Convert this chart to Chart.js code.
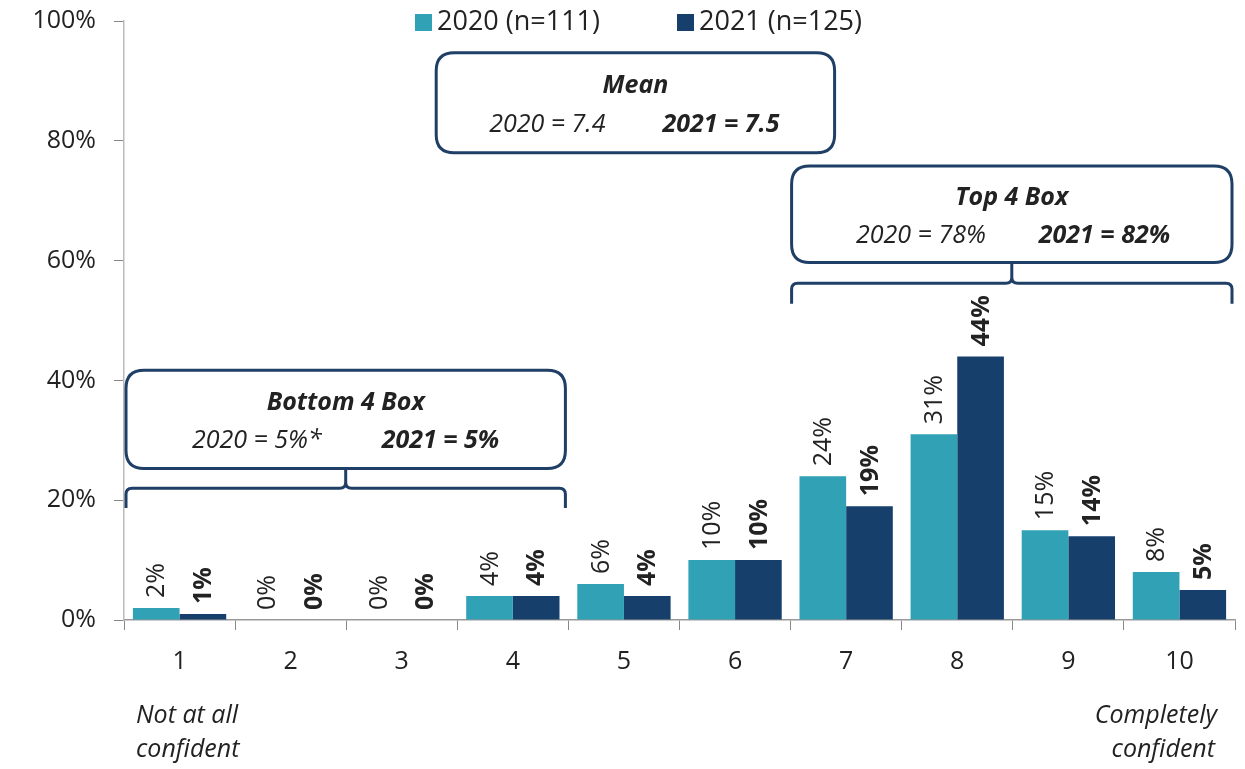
<!DOCTYPE html>
<html>
<head>
<meta charset="utf-8">
<script src="https://cdn.jsdelivr.net/npm/chart.js@4"></script>
<style>
  html, body { margin: 0; padding: 0; background: #fff; }
  #wrap { width: 1245px; height: 769px; }
</style>
</head>
<body>
<div id="wrap"><canvas id="chart"></canvas></div>
<script>
// data
const categories = ["1", "2", "3", "4", "5", "6", "7", "8", "9", "10"];
const values2020 = [2, 0, 0, 4, 6, 10, 24, 31, 15, 8];
const values2021 = [1, 0, 0, 4, 4, 10, 19, 44, 14, 5];
const seriesNames = ["2020 (n=111)", "2021 (n=125)"];
const yTicks = [0, 20, 40, 60, 80, 100];

const meanBox = { title: "Mean", a: "2020 = 7.4", b: "2021 = 7.5" };
const topBox = { title: "Top 4 Box", a: "2020 = 78%", b: "2021 = 82%" };
const bottomBox = { title: "Bottom 4 Box", a: "2020 = 5%*", b: "2021 = 5%" };

const TEAL = "#31a1b6";
const NAVY = "#173f6b";
const BOXLINE = "#1f3f66";
const FONT = "'Open Sans', 'Noto Sans', sans-serif";
const FS = 25;

function roundRect(ctx, x, y, w, h, r) {
  ctx.beginPath();
  ctx.moveTo(x + r, y);
  ctx.lineTo(x + w - r, y);
  ctx.quadraticCurveTo(x + w, y, x + w, y + r);
  ctx.lineTo(x + w, y + h - r);
  ctx.quadraticCurveTo(x + w, y + h, x + w - r, y + h);
  ctx.lineTo(x + r, y + h);
  ctx.quadraticCurveTo(x, y + h, x, y + h - r);
  ctx.lineTo(x, y + r);
  ctx.quadraticCurveTo(x, y, x + r, y);
  ctx.closePath();
}

function drawBox(ctx, x1, y1, x2, y2, info, gapA, gapB) {
  ctx.save();
  roundRect(ctx, x1, y1, x2 - x1, y2 - y1, 18);
  ctx.fillStyle = "#fff";
  ctx.fill();
  ctx.lineWidth = 3;
  ctx.strokeStyle = BOXLINE;
  ctx.stroke();
  const cx = (x1 + x2) / 2;
  const h = y2 - y1;
  ctx.fillStyle = "#222";
  ctx.textBaseline = "middle";
  ctx.textAlign = "center";
  ctx.font = "italic bold " + FS + "px " + FONT;
  ctx.fillText(info.title, cx, y1 + h * 0.33);
  ctx.font = "italic " + FS + "px " + FONT;
  ctx.textAlign = "right";
  ctx.fillText(info.a, cx - gapA, y1 + h * 0.72);
  ctx.font = "italic bold " + FS + "px " + FONT;
  ctx.textAlign = "left";
  ctx.fillText(info.b, cx + gapB, y1 + h * 0.72);
  ctx.restore();
}

function drawBracket(ctx, x1, x2, yTop, yEnd, yStem) {
  const cx = (x1 + x2) / 2;
  ctx.save();
  ctx.lineWidth = 3;
  ctx.strokeStyle = BOXLINE;
  ctx.beginPath();
  ctx.moveTo(x1, yEnd);
  ctx.lineTo(x1, yTop + 6);
  ctx.quadraticCurveTo(x1, yTop, x1 + 6, yTop);
  ctx.lineTo(cx - 6, yTop);
  ctx.quadraticCurveTo(cx, yTop, cx, yTop - 6);
  ctx.lineTo(cx, yStem);
  ctx.moveTo(cx, yTop - 6);
  ctx.quadraticCurveTo(cx, yTop, cx + 6, yTop);
  ctx.lineTo(x2 - 6, yTop);
  ctx.quadraticCurveTo(x2, yTop, x2, yTop + 6);
  ctx.lineTo(x2, yEnd);
  ctx.stroke();
  ctx.restore();
}

const annotations = {
  id: "annotations",
  afterDatasetsDraw(chart) {
    const { ctx, scales } = chart;
    const x = scales.x, y = scales.y;
    const step = (x.getPixelForValue(1) - x.getPixelForValue(0));
    const left = i => x.getPixelForValue(i) - step / 2;
    const right = i => x.getPixelForValue(i) + step / 2;
    const py = v => y.getPixelForValue(v);

    // bar labels, rotated
    chart.data.datasets.forEach((ds, di) => {
      const meta = chart.getDatasetMeta(di);
      meta.data.forEach((bar, i) => {
        ctx.save();
        ctx.translate(bar.x + 1, bar.y - 10);
        ctx.rotate(-Math.PI / 2);
        ctx.font = (di === 1 ? "bold " : "") + FS + "px " + FONT;
        ctx.fillStyle = "#222";
        ctx.textAlign = "left";
        ctx.textBaseline = "middle";
        ctx.fillText(ds.data[i] + "%", 0, 0);
        ctx.restore();
      });
    });

    // brackets + boxes
    drawBracket(ctx, left(0) + 2, right(3) - 3, py(22), py(18.7), py(25.3));
    drawBox(ctx, left(0) + 2, py(41.7), right(3) - 3, py(25.3), bottomBox, 24, 36);
    drawBracket(ctx, left(6) + 1, right(9) - 3, py(56.2), py(52.8), py(59.7));
    drawBox(ctx, left(6) + 1, py(75.8), right(9) - 3, py(59.7), topBox, 26, 27);
    drawBox(ctx, left(2) + 90, py(94.7), left(6) + 44, py(78), meanBox, 30, 27);

    // legend
    ctx.save();
    ctx.font = "27px " + FONT;
    ctx.textBaseline = "middle";
    ctx.textAlign = "left";
    const ly = 22;
    const items = [[TEAL, seriesNames[0], 415], [NAVY, seriesNames[1], 677]];
    items.forEach(([c, t, lx]) => {
      ctx.fillStyle = c;
      ctx.fillRect(lx, ly - 8, 17, 17);
      ctx.fillStyle = "#222";
      ctx.fillText(t, lx + 22, ly);
    });
    ctx.restore();

    // end labels
    ctx.save();
    ctx.font = "italic " + FS + "px " + FONT;
    ctx.fillStyle = "#222";
    ctx.textBaseline = "middle";
    ctx.textAlign = "left";
    ctx.fillText("Not at all", left(0) + 12, 716);
    ctx.fillText("confident", left(0) + 12, 750);
    ctx.textAlign = "right";
    ctx.fillText("Completely", right(9) - 18, 716);
    ctx.fillText("confident", right(9) - 20, 750);
    ctx.restore();
  }
};

new Chart(document.getElementById("chart"), {
  type: "bar",
  data: {
    labels: categories,
    datasets: [
      { label: seriesNames[0], data: values2020, backgroundColor: TEAL },
      { label: seriesNames[1], data: values2021, backgroundColor: NAVY }
    ]
  },
  options: {
    responsive: true,
    maintainAspectRatio: false,
    animation: false,
    layout: { padding: { top: 0, right: 10, left: 0, bottom: 0 } },
    datasets: { bar: { categoryPercentage: 0.84, barPercentage: 1.0 } },
    plugins: { legend: { display: false }, tooltip: { enabled: false } },
    scales: {
      x: {
        offset: true,
        grid: { display: true, drawOnChartArea: false, offset: true, tickLength: 10, color: "#888", tickWidth: 1 },
        border: { color: "#999", width: 1.5 },
        ticks: { font: { family: FONT, size: FS }, color: "#222", padding: 17 },
        afterFit(scale) { scale.height = 769 - 620; }
      },
      y: {
        min: 0,
        max: 100,
        afterBuildTicks(scale) { scale.ticks = yTicks.map(v => ({ value: v })); },
        grid: { display: true, drawOnChartArea: false, tickLength: 10, color: "#888" },
        border: { color: "#bbb", width: 1.5 },
        ticks: { font: { family: FONT, size: FS }, color: "#222", padding: 18, callback: v => v + "%" },
        afterFit(scale) { scale.width = 124; scale.paddingTop = 21; scale.paddingBottom = 0; }
      }
    }
  },
  plugins: [annotations]
});
</script>
</body>
</html>
